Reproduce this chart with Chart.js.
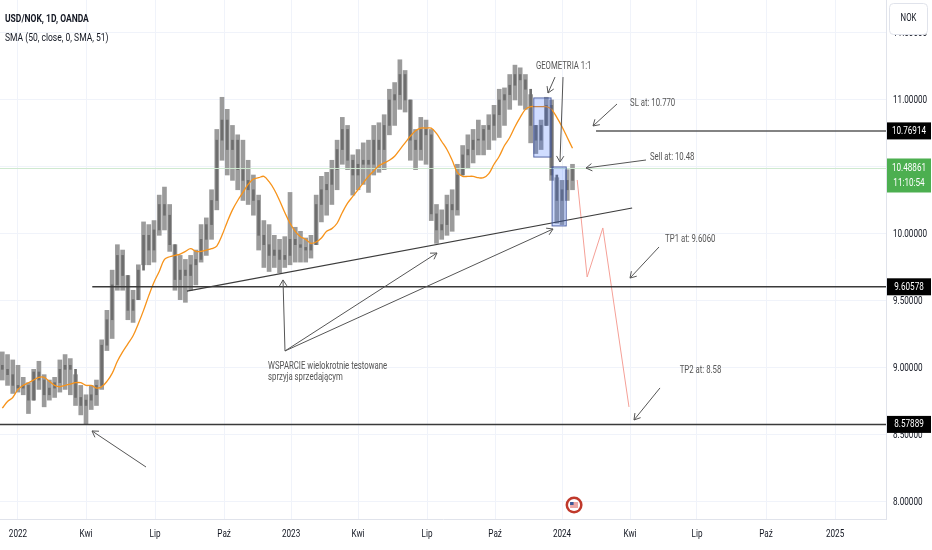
<!DOCTYPE html>
<html>
<head>
<meta charset="utf-8">
<script src="https://cdn.jsdelivr.net/npm/chart.js@4.4.1/dist/chart.umd.min.js"></script>
<style>
  html, body { margin: 0; padding: 0; background: #fff; }
  #wrap { width: 932px; height: 550px; position: relative; }
</style>
</head>
<body>
<div id="wrap"><canvas id="chart" width="932" height="550"></canvas></div>
<script>
// weekly bars, week 0 = 3 Jan 2022
const firstWeek = -3;
const firstOpen = 9.02;
const highs = [
  9.12, 9.10, 9.06, 9.02, 8.93, 8.89, 8.99, 9.05, 8.95, 8.91,
  8.93, 9.06, 9.10, 9.07, 8.95, 8.87, 8.80, 8.87, 8.91, 9.21,
  9.43, 9.73, 9.92, 9.88, 9.69, 9.58, 9.77, 10.09, 10.07, 10.10,
  10.29, 10.35, 10.22, 9.92, 9.84, 9.81, 9.84, 9.88, 10.07, 10.12,
  10.33, 10.78, 11.02, 10.93, 10.81, 10.74, 10.70, 10.55, 10.44, 10.29,
  10.10, 10.07, 9.99, 9.96, 9.98, 10.31, 10.05, 10.02, 9.97, 9.99,
  10.29, 10.43, 10.46, 10.55, 10.70, 10.87, 10.81, 10.59, 10.63, 10.68,
  10.70, 10.81, 10.83, 10.89, 11.08, 11.13, 11.30, 11.22, 11.00, 10.78,
  10.87, 10.85, 10.78, 10.22, 10.18, 10.29, 10.33, 10.52, 10.66, 10.74,
  10.78, 10.85, 10.81, 10.89, 10.96, 11.08, 11.09, 11.19, 11.26, 11.24,
  11.19, 11.04, 10.81, 10.85, 11.02, 11.00, 10.42, 10.40, 10.48, 10.52
];
const lows = [
  8.91, 8.87, 8.81, 8.82, 8.80, 8.66, 8.76, 8.84, 8.71, 8.76,
  8.78, 8.82, 8.84, 8.80, 8.72, 8.65, 8.58, 8.69, 8.72, 8.84,
  9.13, 9.22, 9.58, 9.58, 9.36, 9.34, 9.51, 9.77, 9.77, 9.79,
  9.99, 10.03, 9.87, 9.58, 9.51, 9.49, 9.58, 9.62, 9.79, 9.84,
  9.96, 10.18, 10.55, 10.44, 10.40, 10.33, 10.25, 10.22, 10.14, 9.88,
  9.75, 9.72, 9.75, 9.71, 9.75, 9.77, 9.79, 9.79, 9.79, 9.82,
  9.92, 10.09, 10.14, 10.22, 10.33, 10.52, 10.48, 10.29, 10.33, 10.37,
  10.31, 10.44, 10.46, 10.48, 10.74, 10.81, 10.93, 10.91, 10.55, 10.48,
  10.55, 10.52, 10.10, 9.93, 9.96, 9.99, 10.02, 10.14, 10.44, 10.49,
  10.53, 10.59, 10.59, 10.63, 10.70, 10.72, 10.81, 10.93, 11.00, 10.96,
  10.93, 10.68, 10.60, 10.63, 10.81, 10.40, 10.08, 10.07, 10.25, 10.33
];
const closes = [
  8.99, 8.95, 8.87, 8.85, 8.87, 8.76, 8.97, 8.91, 8.80, 8.85,
  8.89, 8.99, 9.02, 8.99, 8.78, 8.72, 8.76, 8.80, 8.87, 9.17,
  9.36, 9.62, 9.84, 9.69, 9.43, 9.51, 9.73, 9.99, 9.88, 10.03,
  10.22, 10.14, 9.92, 9.66, 9.73, 9.69, 9.77, 9.81, 9.96, 10.07,
  10.25, 10.70, 10.85, 10.63, 10.70, 10.48, 10.40, 10.33, 10.25, 9.99,
  9.92, 9.84, 9.88, 9.81, 9.84, 9.96, 9.92, 9.90, 9.88, 9.92,
  10.22, 10.33, 10.37, 10.48, 10.63, 10.78, 10.55, 10.44, 10.52, 10.55,
  10.52, 10.70, 10.63, 10.81, 11.00, 11.04, 11.19, 11.00, 10.70, 10.63,
  10.78, 10.74, 10.15, 10.03, 10.07, 10.22, 10.18, 10.44, 10.59, 10.63,
  10.70, 10.70, 10.78, 10.81, 10.89, 11.00, 11.04, 11.11, 11.19, 11.15,
  11.08, 10.81, 10.70, 10.81, 10.96, 10.44, 10.25, 10.33, 10.40, 10.49
];
const sma50 = [
  8.70, 8.75, 8.78, 8.84, 8.87, 8.89, 8.91, 8.93, 8.93, 8.90,
  8.87, 8.86, 8.87, 8.88, 8.89, 8.89, 8.87, 8.87, 8.85, 8.86,
  8.90, 8.96, 9.05, 9.12, 9.18, 9.24, 9.33, 9.43, 9.54, 9.64,
  9.72, 9.81, 9.83, 9.84, 9.85, 9.87, 9.89, 9.87, 9.87, 9.88,
  9.89, 9.91, 9.99, 10.09, 10.18, 10.25, 10.31, 10.37, 10.41, 10.42,
  10.43, 10.39, 10.33, 10.25, 10.16, 10.08, 10.02, 9.98, 9.96, 9.93,
  9.94, 9.97, 10.02, 10.04, 10.08, 10.16, 10.23, 10.28, 10.33, 10.38,
  10.43, 10.47, 10.51, 10.53, 10.55, 10.58, 10.63, 10.68, 10.73, 10.77,
  10.79, 10.79, 10.79, 10.75, 10.69, 10.63, 10.55, 10.46, 10.43, 10.43,
  10.43, 10.42, 10.42, 10.45, 10.52, 10.58, 10.66, 10.72, 10.80, 10.87,
  10.93, 10.95, 10.95, 10.95, 10.95, 10.93, 10.87, 10.80, 10.72, 10.64
];
const weeks = closes.map((_, i) => firstWeek + i);

const xTicks = [0, 13, 26.2, 39.4, 52.2, 65, 78.2, 91.2, 104, 117, 129.8, 143, 156.2];
const xTickLabels = ['2022', 'Kwi', 'Lip', 'Paź', '2023', 'Kwi', 'Lip', 'Paź', '2024', 'Kwi', 'Lip', 'Paź', '2025'];
const yTicks = [8, 8.5, 9, 9.5, 10, 10.5, 11, 11.5];
const X_MIN = -3.44, X_MAX = 165.93;
const Y_MIN = 7.873, Y_MAX = 11.746;

// drawings on the chart
const lastPrice = 10.48861;
const countdown = '11:10:54';
const levels = [8.57889, 9.60578, 10.76914];
const levelStarts = [X_MIN, 14.2, 110.5];
const trendline = [[32.3, 9.574], [117.4, 10.194]];
const projection = [[106.9, 10.403], [108.8, 9.679], [111.8, 10.045], [116.8, 8.709]];
const arrows = [
  [[24.47, 8.261], [14.15, 8.530]],
  [[51.04, 9.127], [50.66, 9.657]],
  [[51.04, 9.127], [80.10, 9.858]],
  [[51.04, 9.127], [102.28, 10.037]],
  [[102.66, 11.171], [101.32, 11.052]],
  [[104.19, 11.171], [103.61, 10.537]],
  [[114.51, 10.970], [109.92, 10.806]],
  [[120.05, 10.552], [108.58, 10.492]],
  [[122.54, 9.903], [116.99, 9.671]],
  [[122.73, 8.851], [117.76, 8.612]]
];
const boxes = [
  [[98.6, 11.015], [101.9, 10.574]],
  [[102.1, 10.500], [104.8, 10.060]]
];
const notes = [
  ['GEOMETRIA 1:1', 99.0, 11.254],
  ['SL at: 10.770', 117.0, 10.978],
  ['Sell at: 10.48', 120.8, 10.574],
  ['TP1 at: 9.6060', 123.7, 9.963],
  ['TP2 at: 8.58', 126.5, 8.985],
  ['WSPARCIE wielokrotnie testowane', 47.8, 9.015],
  ['sprzyja sprzedającym', 47.8, 8.933]
];
const eventWeek = 106.3;

const SX = 0.74; // narrow text like the screenshot
function drawText(ctx, s, x, y, size, color, align, bold) {
  ctx.save();
  ctx.font = (bold ? 'bold ' : '') + size + 'px Roboto, "Liberation Sans", sans-serif';
  ctx.fillStyle = color;
  ctx.textBaseline = 'middle';
  ctx.textAlign = 'left';
  const w = ctx.measureText(s).width * SX;
  const x0 = align === 'center' ? x - w / 2 : align === 'right' ? x - w : x;
  ctx.translate(x0, y);
  ctx.scale(SX, 1);
  ctx.fillText(s, 0, 0);
  ctx.restore();
}

const lineDs = (pts, color, width, order, extra) => Object.assign({
  type: 'line',
  data: pts.map(p => ({ x: p[0], y: p[1] })),
  borderColor: color, borderWidth: width,
  pointRadius: 0, tension: 0, order: order
}, extra || {});

const datasets = [
  {
    type: 'bar', label: 'wick', grouped: false, order: 20,
    data: weeks.map((w, i) => ({ x: w, y: [lows[i], highs[i]] })),
    backgroundColor: '#9b9b9b', barThickness: 4
  },
  {
    type: 'bar', label: 'body', grouped: false, order: 19,
    data: weeks.map((w, i) => ({ x: w, y: [i ? closes[i - 1] : firstOpen, closes[i]] })),
    backgroundColor: '#6e6e6e', barThickness: 2, minBarLength: 1
  },
  lineDs(weeks.map((w, i) => [w, sma50[i]]), '#f7931a', 1.3, 10, { tension: 0.35 }),
  lineDs([[X_MIN, lastPrice], [X_MAX, lastPrice]], '#cfe9d0', 1, 15),
  lineDs(trendline, '#3c3c3c', 1.2, 5),
  lineDs(projection, '#f5a097', 1, 5)
];
levels.forEach((v, i) => {
  datasets.push(lineDs([[levelStarts[i], v], [X_MAX, v]], i === 2 ? '#5a5a5a' : '#3a3a3a', 1.5, 4));
});
arrows.forEach(a => datasets.push(lineDs(a, '#555', 1, 3, { arrow: true })));

const overlay = {
  id: 'overlay',
  afterDatasetsDraw(chart) {
    const { ctx, chartArea: a } = chart;
    const sx = chart.scales.x, sy = chart.scales.y;
    ctx.save();
    ctx.beginPath();
    ctx.rect(a.left, a.top, a.right - a.left, a.bottom - a.top);
    ctx.clip();
    boxes.forEach(b => {
      const x0 = sx.getPixelForValue(b[0][0]), x1 = sx.getPixelForValue(b[1][0]);
      const y0 = sy.getPixelForValue(b[0][1]), y1 = sy.getPixelForValue(b[1][1]);
      ctx.fillStyle = 'rgba(41,98,255,0.22)';
      ctx.fillRect(x0, y0, x1 - x0, y1 - y0);
      ctx.strokeStyle = 'rgba(60,80,150,0.85)';
      ctx.lineWidth = 1;
      ctx.strokeRect(x0, y0, x1 - x0, y1 - y0);
    });
    chart.data.datasets.forEach((ds, i) => {
      if (!ds.arrow) return;
      const pts = chart.getDatasetMeta(i).data;
      const p0 = pts[0], p1 = pts[1];
      const ang = Math.atan2(p1.y - p0.y, p1.x - p0.x);
      ctx.strokeStyle = ds.borderColor;
      ctx.lineWidth = 1;
      ctx.beginPath();
      [-0.55, 0.55].forEach(d => {
        ctx.moveTo(p1.x, p1.y);
        ctx.lineTo(p1.x - 7 * Math.cos(ang + d), p1.y - 7 * Math.sin(ang + d));
      });
      ctx.stroke();
    });
    notes.forEach(n => drawText(ctx, n[0], sx.getPixelForValue(n[1]), sy.getPixelForValue(n[2]), 10.5, '#555', 'left'));

    // economic event badge
    const ex = sx.getPixelForValue(eventWeek), ey = a.bottom - 14;
    ctx.beginPath(); ctx.arc(ex, ey, 8.5, 0, Math.PI * 2); ctx.fillStyle = '#c0392b'; ctx.fill();
    ctx.beginPath(); ctx.arc(ex, ey, 6, 0, Math.PI * 2); ctx.fillStyle = '#fff'; ctx.fill();
    ctx.fillStyle = '#d9534f';
    for (let k = -2; k <= 2; k += 2) ctx.fillRect(ex - 4, ey + k - 0.5, 8, 1);
    ctx.fillStyle = '#3b5998';
    ctx.fillRect(ex - 4, ey - 3, 3.5, 3);
    ctx.restore();
  },
  afterDraw(chart) {
    const { ctx, chartArea: a } = chart;
    const sx = chart.scales.x, sy = chart.scales.y;
    xTicks.forEach((t, i) => drawText(ctx, xTickLabels[i], sx.getPixelForValue(t), a.bottom + 15, 11, '#131722', 'center'));
    yTicks.forEach(v => drawText(ctx, v.toFixed(5), a.right + 7, sy.getPixelForValue(v), 11, '#131722', 'left'));

    const tag = (v, bg, lines, top, h) => {
      const y = sy.getPixelForValue(v);
      ctx.fillStyle = bg;
      ctx.fillRect(a.right + 1, y - top, 44, h);
      lines.forEach((s, k) => drawText(ctx, s, a.right + 23, y + k * 15, 11, '#fff', 'center'));
    };
    levels.forEach(v => tag(v, '#000', [v.toFixed(5)], 8.5, 17));
    tag(lastPrice, '#4caf50', [lastPrice.toFixed(5), countdown], 10, 34);

    // currency button
    ctx.save();
    ctx.fillStyle = '#fff';
    ctx.strokeStyle = '#e0e3eb';
    ctx.lineWidth = 1;
    ctx.beginPath();
    ctx.roundRect(a.right + 3.5, 3.5, 38, 31, 4);
    ctx.fill(); ctx.stroke();
    ctx.restore();
    drawText(ctx, 'NOK', a.right + 22.5, 18, 10.5, '#131722', 'center');

    drawText(ctx, 'USD/NOK, 1D, OANDA', 5, 19, 11.5, '#131722', 'left', true);
    drawText(ctx, 'SMA (50, close, 0, SMA, 51)', 5, 38, 11.5, '#131722', 'left');
  }
};

new Chart(document.getElementById('chart'), {
  type: 'bar',
  data: { datasets },
  options: {
    responsive: false, animation: false, devicePixelRatio: 1,
    layout: { padding: 0 },
    plugins: { legend: { display: false }, tooltip: { enabled: false } },
    scales: {
      x: {
        type: 'linear', min: X_MIN, max: X_MAX, offset: false,
        afterBuildTicks: s => { s.ticks = xTicks.map(v => ({ value: v })); },
        afterFit: s => { s.height = 31; },
        ticks: { display: false },
        grid: { color: '#f0f3fa', drawTicks: false, offset: false },
        border: { color: '#e0e3eb' }
      },
      y: {
        type: 'linear', position: 'right', min: Y_MIN, max: Y_MAX, beginAtZero: false,
        afterBuildTicks: s => { s.ticks = yTicks.map(v => ({ value: v })); },
        afterFit: s => { s.width = 46; },
        ticks: { display: false },
        grid: { color: '#f0f3fa', drawTicks: false },
        border: { color: '#e0e3eb' }
      }
    }
  },
  plugins: [overlay]
});
</script>
</body>
</html>
